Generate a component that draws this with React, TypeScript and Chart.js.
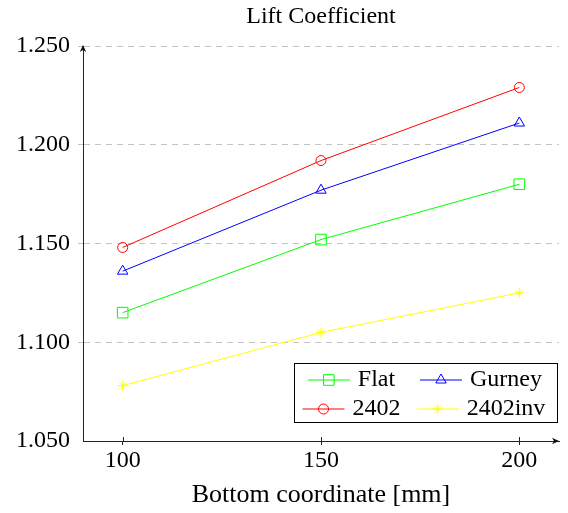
import React, { useEffect, useRef } from "react";
import { Chart, registerables } from "chart.js";
import { drawPoint } from "chart.js/helpers";

Chart.register(...registerables);

const xValues = [100, 150, 200];
const xTicks = [100, 150, 200];
const yTicks = [1.05, 1.1, 1.15, 1.2, 1.25];

const seriesNames = ["Flat", "Gurney", "2402", "2402inv"];
const flatValues = [1.115, 1.152, 1.18];
const gurneyValues = [1.136, 1.177, 1.211];
const s2402Values = [1.148, 1.192, 1.229];
const s2402invValues = [1.078, 1.105, 1.125];

const chartTitle = "Lift Coefficient";
const xTitle = "Bottom coordinate [mm]";

const SERIF = '"Liberation Serif", "Times New Roman", serif';

const styles = [
  { color: "#00ff00", pointStyle: "rect", radius: 7.5 },
  { color: "#0000ff", pointStyle: "triangle", radius: 6 },
  { color: "#ff0000", pointStyle: "circle", radius: 5 },
  { color: "#ffff00", pointStyle: "star", radius: 5 },
];

const allValues = [flatValues, gurneyValues, s2402Values, s2402invValues];

const decorPlugin = {
  id: "decor",
  afterDraw(chart: any) {
    const { ctx, chartArea: ca } = chart;
    ctx.save();
    // inner x tick marks
    ctx.strokeStyle = "#222";
    ctx.lineWidth = 1;
    xTicks.forEach((v) => {
      const px = Math.round(chart.scales.x.getPixelForValue(v)) + 0.5;
      ctx.beginPath();
      ctx.moveTo(px, ca.bottom - 4);
      ctx.lineTo(px, ca.bottom);
      ctx.stroke();
    });
    // arrows
    ctx.fillStyle = "#111";
    const ax = Math.round(ca.left);
    const ay = ca.top - 1;
    ctx.beginPath();
    ctx.moveTo(ax, ay);
    ctx.lineTo(ax - 3.2, ay + 7);
    ctx.lineTo(ax, ay + 5);
    ctx.lineTo(ax + 3.2, ay + 7);
    ctx.closePath();
    ctx.fill();
    const bx = ca.right;
    const by = Math.round(ca.bottom);
    ctx.beginPath();
    ctx.moveTo(bx, by);
    ctx.lineTo(bx - 7, by - 3.2);
    ctx.lineTo(bx - 5, by);
    ctx.lineTo(bx - 7, by + 3.2);
    ctx.closePath();
    ctx.fill();
    // title
    ctx.fillStyle = "#000";
    ctx.font = `24px ${SERIF}`;
    ctx.textAlign = "center";
    ctx.textBaseline = "alphabetic";
    ctx.fillText(chartTitle, (ca.left + ca.right) / 2, 23);
    // legend
    const bxL = 294.5, byL = 363.5, bw = 263, bh = 59;
    ctx.fillStyle = "#fff";
    ctx.fillRect(bxL, byL, bw, bh);
    ctx.strokeStyle = "#000";
    ctx.lineWidth = 1;
    ctx.strokeRect(bxL, byL, bw, bh);
    const cols = [351.5, 481];
    const rows = [380, 409];
    ctx.font = `24px ${SERIF}`;
    chart.data.datasets.forEach((ds: any, i: number) => {
      const cx = cols[i % 2];
      const cy = rows[Math.floor(i / 2)];
      const tw = ctx.measureText(ds.label).width;
      const lineW = 42, gap = 8;
      const x0 = cx - (lineW + gap + tw) / 2;
      ctx.strokeStyle = ds.borderColor;
      ctx.lineWidth = 1;
      ctx.beginPath();
      ctx.moveTo(x0, cy);
      ctx.lineTo(x0 + lineW, cy);
      ctx.stroke();
      ctx.fillStyle = "rgba(0,0,0,0)";
      drawPoint(ctx, { pointStyle: ds.pointStyle, radius: ds.pointRadius, rotation: 0, borderWidth: 1 } as any, x0 + lineW / 2, cy);
      ctx.fillStyle = "#000";
      ctx.textAlign = "left";
      ctx.textBaseline = "middle";
      ctx.fillText(ds.label, x0 + lineW + gap, cy);
    });
    ctx.restore();
  },
};

export default function App() {
  const ref = useRef<HTMLCanvasElement>(null);
  useEffect(() => {
    const datasets = seriesNames.map((name, i) => ({
      label: name,
      data: xValues.map((x, j) => ({ x, y: allValues[i][j] })),
      borderColor: styles[i].color,
      borderWidth: 1,
      pointStyle: styles[i].pointStyle,
      pointRadius: styles[i].radius,
      pointBorderColor: styles[i].color,
      pointBackgroundColor: "rgba(0,0,0,0)",
      pointBorderWidth: 1,
      fill: false,
      tension: 0,
    }));
    const gridColor = (c: any) => (c.tick && c.tick.value <= 1.0501 ? "rgba(0,0,0,0)" : "#c4c4c4");
    const chart = new Chart(ref.current as HTMLCanvasElement, {
      type: "line",
      data: { datasets } as any,
      options: {
        animation: false,
        responsive: false,
        devicePixelRatio: 1,
        layout: { padding: { top: 46, right: 9, bottom: 0, left: 0 } },
        plugins: { legend: { display: false }, title: { display: false }, tooltip: { enabled: false } },
        scales: {
          x: {
            type: "linear",
            min: 90,
            max: 210,
            afterBuildTicks: (scale: any) => {
              scale.ticks = xTicks.map((v) => ({ value: v }));
            },
            afterFit: (scale: any) => {
              scale.height = 72;
            },
            grid: { drawOnChartArea: false, drawTicks: true, tickLength: 4, color: "#222", tickColor: "#222" },
            border: { display: true, color: "#222", width: 1 },
            ticks: { padding: 1, color: "#000", font: { family: SERIF, size: 24 }, callback: (v: any) => String(v) },
            title: { display: true, text: xTitle, color: "#000", font: { family: SERIF, size: 26 }, padding: { top: 0, bottom: 2 } },
          },
          y: {
            type: "linear",
            min: 1.05,
            max: 1.25,
            afterBuildTicks: (scale: any) => {
              scale.ticks = yTicks.map((v) => ({ value: v }));
            },
            afterFit: (scale: any) => {
              scale.width = 83;
            },
            grid: { color: gridColor, tickColor: gridColor, tickLength: 5, lineWidth: 1 },
            border: { display: true, color: "#222", width: 1, dash: [6, 5] },
            ticks: { padding: 8, color: "#000", font: { family: SERIF, size: 24 }, callback: (v: any) => Number(v).toFixed(3) },
          },
        },
      } as any,
      plugins: [decorPlugin],
    });
    return () => chart.destroy();
  }, []);
  return (
    <div style={{ position: "absolute", left: 0, top: 0, width: 568, height: 513, background: "#fff" }}>
      <canvas ref={ref} width={568} height={513} style={{ display: "block", width: 568, height: 513 }} />
    </div>
  );
}
